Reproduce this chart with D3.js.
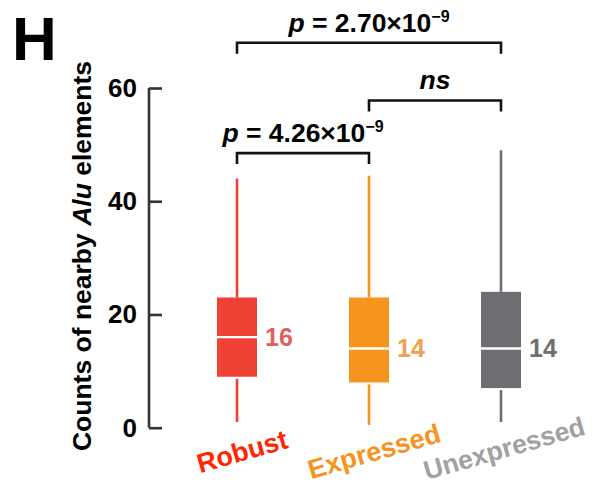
<!DOCTYPE html>
<html>
<head>
<meta charset="utf-8">
<script src="https://cdn.jsdelivr.net/npm/d3@7"></script>
<style>
  html, body { margin: 0; padding: 0; background: #fff; }
  svg { display: block; font-family: "Liberation Sans", Arial, Helvetica, sans-serif; }
</style>
</head>
<body>
<svg id="chart" width="602" height="487"></svg>
<script>
// ---- data ----
const categories = ["Robust", "Expressed", "Unexpressed"];
const whiskerLow  = [1, 0.5, 1];
const q1          = [9, 8, 7];
const medians     = [16, 14, 14];
const q3          = [23, 23, 24];
const whiskerHigh = [44, 44.5, 49];
const yTicks = [0, 20, 40, 60];
const boxColors   = ["#ef4136", "#f7941d", "#6d6e71"];
const valueColors = ["#e2605a", "#f2a04e", "#6d6e71"];
const labelColors = ["#ff2600", "#f7931e", "#a1a1a4"];
// significance annotations: [from index, to index, bracket level (data units), label]
const compFrom  = [0, 1, 0];
const compTo    = [2, 2, 1];
const compLevel = [68, 57.8, 48.5];
const compMant  = ["2.70", "", "4.26"];
const compExp   = ["−9", "", "−9"];
const compNs    = [false, true, false];

// ---- layout ----
const svg = d3.select("#chart");
const x = d3.scalePoint().domain(categories).range([237, 501]);
const y = d3.scaleLinear().domain([0, 60]).range([427.7, 88]);
const boxW = 40;

// Panel letter
svg.append("text").attr("x", 12).attr("y", 60)
  .attr("font-size", 62).attr("font-weight", "bold").attr("fill", "#000").text("H");

// Y axis
const yAxis = d3.axisRight(y).tickValues(yTicks).tickSize(13).tickFormat(d3.format("d"));
const gy = svg.append("g").attr("transform", "translate(149,0)").call(yAxis);
gy.select(".domain").attr("stroke", "#333").attr("stroke-width", 2.6)
  .attr("d", `M0,${y(60)}V${y(0)}`);
gy.selectAll(".tick line").attr("stroke", "#333").attr("stroke-width", 2.6);
gy.selectAll(".tick text").attr("x", -12).attr("text-anchor", "end")
  .attr("font-size", 26).attr("font-weight", "bold").attr("fill", "#000")
  .attr("font-family", "'Liberation Sans', Arial, sans-serif");

// Y title
const yt = svg.append("text")
  .attr("transform", "translate(91,256) rotate(-90)")
  .attr("text-anchor", "middle").attr("font-size", 26.5).attr("font-weight", "bold").attr("fill", "#000");
yt.append("tspan").text("Counts of nearby ");
yt.append("tspan").attr("font-style", "italic").text("Alu");
yt.append("tspan").text(" elements");

// Boxes
const g = svg.append("g");
categories.forEach((c, i) => {
  const cx = x(c);
  g.append("line").attr("x1", cx).attr("x2", cx)
    .attr("y1", y(q3[i])).attr("y2", y(whiskerHigh[i]))
    .attr("stroke", boxColors[i]).attr("stroke-width", 2.6);
  g.append("line").attr("x1", cx).attr("x2", cx)
    .attr("y1", y(q1[i]) + 2).attr("y2", y(whiskerLow[i]))
    .attr("stroke", boxColors[i]).attr("stroke-width", 2.6);
  g.append("rect").attr("x", cx - boxW / 2).attr("width", boxW)
    .attr("y", y(q3[i])).attr("height", y(q1[i]) - y(q3[i]))
    .attr("fill", boxColors[i]);
  g.append("line").attr("x1", cx - boxW / 2).attr("x2", cx + boxW / 2)
    .attr("y1", y(medians[i])).attr("y2", y(medians[i]))
    .attr("stroke", "#fff").attr("stroke-width", 2.4);
  g.append("text").attr("x", cx + boxW / 2 + 8).attr("y", y(medians[i]))
    .attr("dy", "0.36em").attr("font-size", 25).attr("font-weight", "bold")
    .attr("fill", valueColors[i]).text(medians[i]);
  g.append("text")
    .attr("transform", `translate(${cx + (i === 2 ? 3 : 5)},${i === 2 ? 448 : 451}) rotate(-16)`)
    .attr("text-anchor", "middle").attr("dy", "0.36em")
    .attr("font-size", i === 2 ? 26.5 : 27).attr("font-weight", "bold")
    .attr("fill", labelColors[i]).text(c);
});

// Significance brackets
const legPx = 11;
compFrom.forEach((f, k) => {
  const x1 = x(categories[f]), x2 = x(categories[compTo[k]]);
  const yy = y(compLevel[k]);
  svg.append("path")
    .attr("d", `M${x1},${yy + legPx}V${yy}H${x2}V${yy + legPx}`)
    .attr("fill", "none").attr("stroke", "#111").attr("stroke-width", 2.6);
  const t = svg.append("text").attr("x", (x1 + x2) / 2).attr("y", yy - 11)
    .attr("text-anchor", "middle").attr("font-size", 26.5).attr("font-weight", "bold").attr("fill", "#000");
  if (compNs[k]) {
    t.append("tspan").attr("font-style", "italic").text("ns");
  } else {
    t.append("tspan").attr("font-style", "italic").text("p");
    t.append("tspan").text(" = " + compMant[k] + "×10");
    t.append("tspan").attr("font-size", 16).attr("dy", -10).text(compExp[k]);
  }
});
</script>
</body>
</html>
